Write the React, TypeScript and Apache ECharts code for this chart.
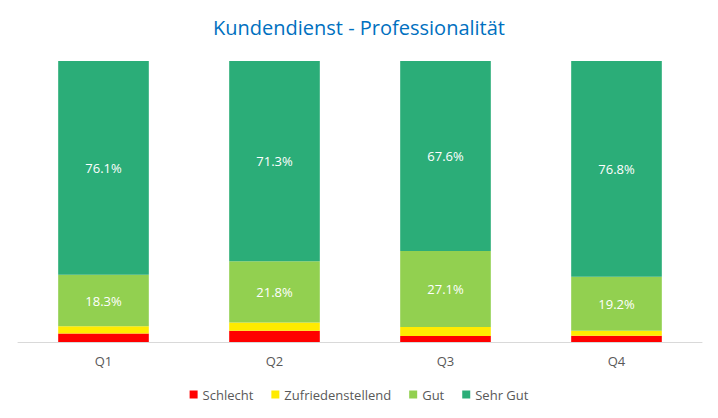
import React, { useEffect, useRef } from "react";
import * as echarts from "echarts";

const categories = ["Q1", "Q2", "Q3", "Q4"];
const schlecht = [3.0, 4.0, 2.1, 2.2];
const zufrieden = [2.6, 2.9, 3.2, 1.8];
const gut = [18.3, 21.8, 27.1, 19.2];
const sehrGut = [76.1, 71.3, 67.6, 76.8];

export default function App() {
  const ref = useRef<HTMLDivElement>(null);
  useEffect(() => {
    const chart = echarts.init(ref.current!, null, { renderer: "svg" });
    const font = "'Open Sans', 'Liberation Sans', sans-serif";
    const mk = (name: string, data: number[], color: string, label: boolean) => ({
      name,
      type: "bar",
      stack: "s",
      data,
      barWidth: "53%",
      itemStyle: { color },
      label: label
        ? {
            show: true,
            position: "inside",
            color: "#ffffff",
            fontSize: 13,
            fontFamily: font,
            formatter: (p: any) => p.value.toFixed(1) + "%",
          }
        : { show: false },
    });
    chart.setOption({
      animation: false,
      title: {
        text: "Kundendienst - Professionalität",
        left: "center",
        top: 4,
        textStyle: { color: "#0070C0", fontSize: 20, fontWeight: "normal", fontFamily: font },
      },
      legend: {
        bottom: 4,
        left: "center",
        itemWidth: 8,
        itemHeight: 8,
        itemGap: 18,
        icon: "rect",
        textStyle: { color: "#595959", fontSize: 13, fontFamily: font },
        data: ["Schlecht", "Zufriedenstellend", "Gut", "Sehr Gut"],
      },
      grid: { left: 10, right: 8, top: 53, bottom: 68 },
      xAxis: {
        type: "category",
        data: categories,
        axisLine: { lineStyle: { color: "#d9d9d9" } },
        axisTick: { show: false },
        axisLabel: { color: "#595959", fontSize: 13, fontFamily: font, margin: 12 },
      },
      yAxis: { type: "value", min: 0, max: 100, show: false },
      series: [
        mk("Schlecht", schlecht, "#FF0000", false),
        mk("Zufriedenstellend", zufrieden, "#FFEB00", false),
        mk("Gut", gut, "#92D050", true),
        mk("Sehr Gut", sehrGut, "#2BAD78", true),
      ],
    });
    return () => chart.dispose();
  }, []);
  return <div ref={ref} style={{ width: 702, height: 402 }} />;
}
